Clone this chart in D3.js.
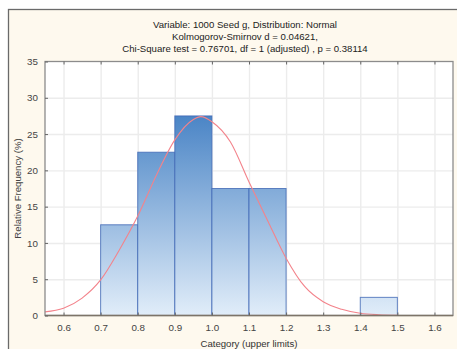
<!DOCTYPE html>
<html>
<head>
<meta charset="utf-8">
<script src="https://cdn.jsdelivr.net/npm/d3@7"></script>
<style>
  body { margin: 0; background: #fff; }
  svg { display: block; font-family: "Liberation Sans", Arial, sans-serif; }
</style>
</head>
<body>
<div id="chart"></div>
<script>
const titleLines = [
  'Variable: 1000 Seed g, Distribution: Normal',
  'Kolmogorov-Smirnov d = 0.04621,',
  'Chi-Square test = 0.76701, df = 1 (adjusted) , p = 0.38114'
];
const binLower = [0.7, 0.8, 0.9, 1.0, 1.1, 1.4];
const binUpper = [0.8, 0.9, 1.0, 1.1, 1.2, 1.5];
const relFreq = [12.5, 22.5, 27.5, 17.5, 17.5, 2.5];

// fitted normal curve
const curveX = [0.55, 0.6, 0.65, 0.7, 0.75, 0.8, 0.85, 0.9, 0.95, 0.97, 1.0, 1.05, 1.1, 1.15, 1.2, 1.25, 1.3, 1.35, 1.4, 1.45, 1.5];
const curveY = [0.5, 1.0, 2.4, 4.9, 9.0, 13.7, 19.3, 24.2, 27.0, 27.4, 26.7, 23.9, 18.4, 13.1, 7.9, 4.0, 1.9, 0.85, 0.3, 0.1, 0.03];

const xTicks = [0.6, 0.7, 0.8, 0.9, 1.0, 1.1, 1.2, 1.3, 1.4, 1.5, 1.6];
const yTicks = [0, 5, 10, 15, 20, 25, 30, 35];

const W = 457, H = 349;
const margin = { top: 61.5, right: 4, bottom: 33.5, left: 45 };
const width = W - margin.left - margin.right;
const height = H - margin.top - margin.bottom;

const svg = d3.select('#chart').append('svg')
  .attr('width', W)
  .attr('height', H);

// outer cream frame
svg.append('rect')
  .attr('x', 8.5).attr('y', 9.5)
  .attr('width', 470).attr('height', 360)
  .attr('fill', '#fef9ee')
  .attr('stroke', '#6a6a6a')
  .attr('stroke-width', 1.3);

svg.selectAll('.title')
  .data(titleLines)
  .enter()
  .append('text')
  .attr('class', 'title')
  .attr('x', 245)
  .attr('y', (d, i) => 27.5 + i * 12)
  .attr('text-anchor', 'middle')
  .style('font-size', '9.6px')
  .style('fill', '#222')
  .text(d => d);

const g = svg.append('g')
  .attr('transform', `translate(${margin.left},${margin.top})`);

const x = d3.scaleLinear().domain([0.55, 1.65]).range([0, width]);
const y = d3.scaleLinear().domain([0, 35]).range([height, 0]);

g.append('rect')
  .attr('width', width)
  .attr('height', height)
  .attr('fill', '#fff');

// grid
g.append('g')
  .attr('transform', `translate(0,${height})`)
  .call(d3.axisBottom(x).tickValues(xTicks).tickSize(-height).tickFormat(''))
  .call(s => s.select('.domain').remove())
  .selectAll('.tick line')
  .style('stroke', '#ececec')
  .style('stroke-width', 1.4);

g.append('g')
  .call(d3.axisLeft(y).tickValues(yTicks.slice(1, -1)).tickSize(-width).tickFormat(''))
  .call(s => s.select('.domain').remove())
  .selectAll('.tick line')
  .style('stroke', '#ececec')
  .style('stroke-width', 1.4);

// bar gradient in plot space
const grad = svg.append('defs').append('linearGradient')
  .attr('id', 'barGrad')
  .attr('gradientUnits', 'userSpaceOnUse')
  .attr('x1', 0).attr('x2', 0)
  .attr('y1', y(28)).attr('y2', y(0));
grad.append('stop').attr('offset', '0%').attr('stop-color', '#4883c5');
grad.append('stop').attr('offset', '100%').attr('stop-color', '#e1edf9');

const bins = relFreq.map((v, i) => ({ lo: binLower[i], hi: binUpper[i], v }));

g.selectAll('.bar')
  .data(bins)
  .enter()
  .append('rect')
  .attr('class', 'bar')
  .attr('x', d => x(d.lo))
  .attr('y', d => y(d.v))
  .attr('width', d => x(d.hi) - x(d.lo))
  .attr('height', d => y(0) - y(d.v))
  .attr('fill', 'url(#barGrad)')
  .attr('stroke', '#4068b5')
  .attr('stroke-opacity', 0.8)
  .attr('stroke-width', 1);

const line = d3.line()
  .x(d => x(d[0]))
  .y(d => y(d[1]))
  .curve(d3.curveMonotoneX);

g.append('path')
  .datum(curveX.map((cx, i) => [cx, curveY[i]]))
  .attr('fill', 'none')
  .attr('stroke', '#f3838b')
  .attr('stroke-width', 1.1)
  .attr('d', line);

// plot frame
g.append('rect')
  .attr('width', width)
  .attr('height', height)
  .attr('fill', 'none')
  .attr('stroke', '#8c8c8c')
  .attr('stroke-width', 1.3);

g.append('line')
  .attr('x1', 0).attr('x2', width)
  .attr('y1', height).attr('y2', height)
  .attr('stroke', '#7d7468')
  .attr('stroke-width', 1.6);

// inward ticks + labels
const xAxis = g.append('g')
  .attr('transform', `translate(0,${height})`)
  .call(d3.axisBottom(x).tickValues(xTicks).tickSize(-3).tickPadding(9).tickFormat(d3.format('.1f')));
xAxis.select('.domain').remove();

g.append('g')
  .call(d3.axisTop(x).tickValues(xTicks).tickSize(-3).tickFormat(''))
  .select('.domain').remove();

const yAxis = g.append('g')
  .call(d3.axisLeft(y).tickValues(yTicks).tickSize(-3).tickPadding(7));
yAxis.select('.domain').remove();

svg.selectAll('.tick line').filter(function () { return +this.getAttribute('x2') === 3 || +this.getAttribute('y2') === -3 || +this.getAttribute('y2') === 3; })
  .style('stroke', '#666');

svg.selectAll('.tick text')
  .style('font-size', '9.8px')
  .style('fill', '#444')
  .style('font-family', '"Liberation Sans", Arial, sans-serif');

svg.append('text')
  .attr('x', margin.left + width / 2)
  .attr('y', 346.5)
  .attr('text-anchor', 'middle')
  .style('font-size', '9.6px')
  .style('fill', '#333')
  .text('Category (upper limits)');

svg.append('text')
  .attr('transform', `translate(20.5,${margin.top + height / 2}) rotate(-90)`)
  .attr('text-anchor', 'middle')
  .style('font-size', '9.6px')
  .style('fill', '#444')
  .text('Relative Frequency (%)');
</script>
</body>
</html>
